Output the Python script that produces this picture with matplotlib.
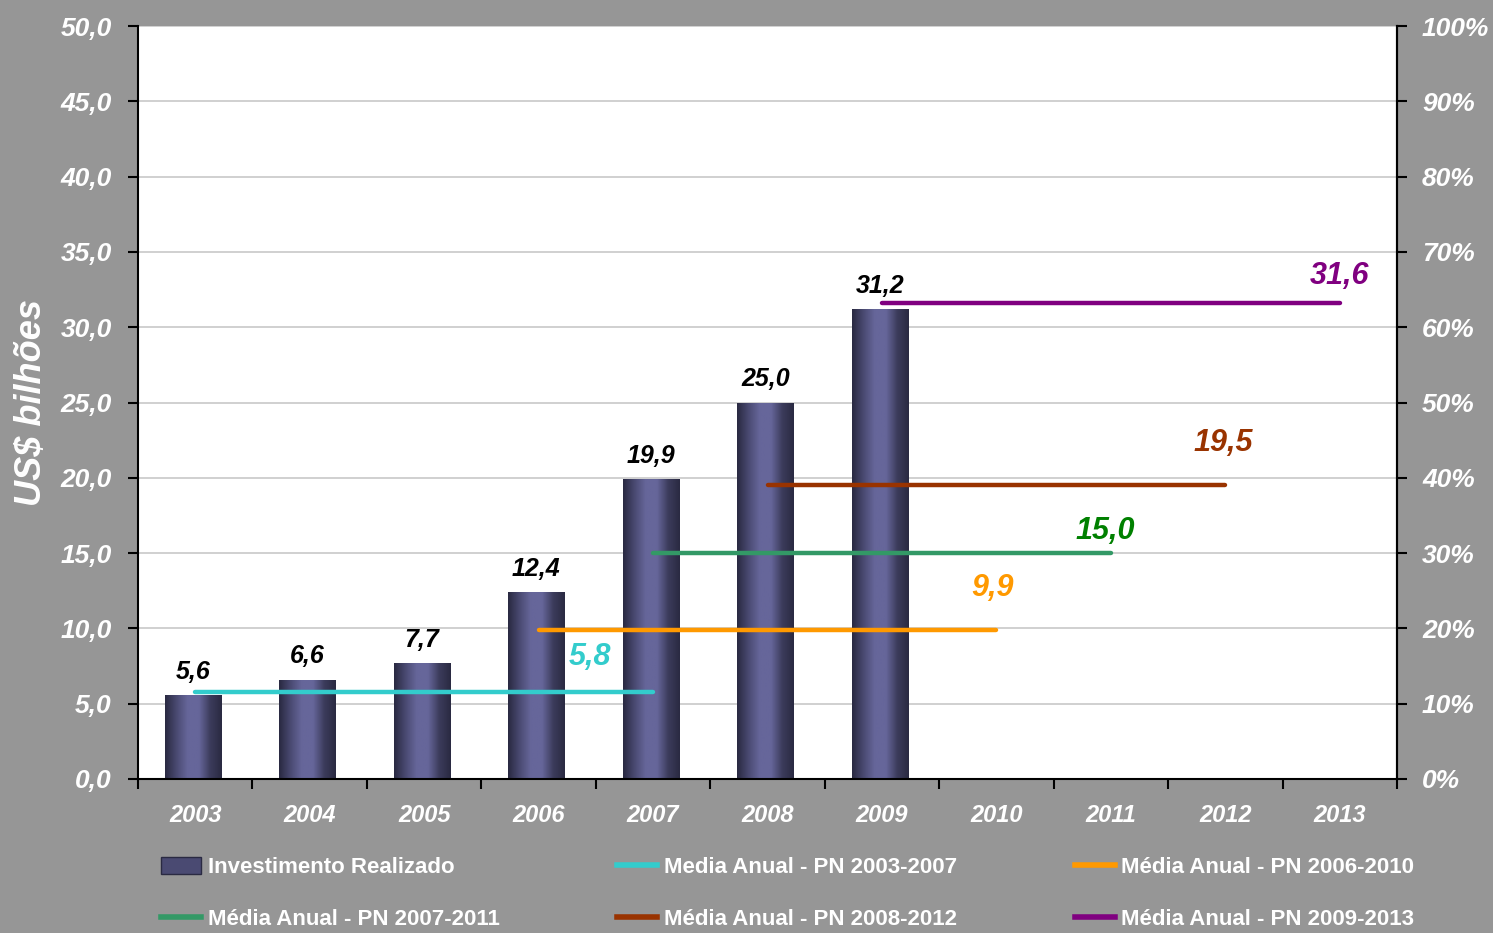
import numpy as np
import matplotlib
matplotlib.use("Agg")
import matplotlib.pyplot as plt
from matplotlib.lines import Line2D
from matplotlib.patches import Patch
from matplotlib.colors import LinearSegmentedColormap

# data
years = ['2003', '2004', '2005', '2006', '2007', '2008', '2009', '2010', '2011', '2012', '2013']
invest = [5.6, 6.6, 7.7, 12.4, 19.9, 25.0, 31.2]
invest_labels = ['5,6', '6,6', '7,7', '12,4', '19,9', '25,0', '31,2']

plan_names = ['Media Anual - PN 2003-2007', 'Média Anual - PN 2006-2010',
              'Média Anual - PN 2007-2011', 'Média Anual - PN 2008-2012',
              'Média Anual - PN 2009-2013']
plan_start = ['2003', '2006', '2007', '2008', '2009']
plan_end = ['2007', '2010', '2011', '2012', '2013']
plan_avg = [5.8, 9.9, 15.0, 19.5, 31.6]
plan_labels = ['5,8', '9,9', '15,0', '19,5', '31,6']

# style
bg = '#969696'
line_colors = ['#33CCCC', '#FF9900', '#339966', '#993300', '#800080']
text_colors = ['#33CCCC', '#FF9900', '#008000', '#993300', '#800080']
label_offsets = [(-0.55, 2.3), (-0.03, 2.75), (-0.05, 1.5), (-0.02, 2.8), (0.0, 1.8)]

plt.rcParams['font.family'] = ['Liberation Sans', 'DejaVu Sans']

fig = plt.figure(figsize=(14.93, 9.33), dpi=100, facecolor=bg)
ax = fig.add_axes([138 / 1493, 1 - 779 / 933, (1397 - 138) / 1493, (779 - 26) / 933])
ax.set_facecolor('white')

x = np.arange(len(years))
bars = ax.bar(x[:len(invest)] - 0.02, invest, width=0.49, color='#555580', zorder=2)

# gradient fill on each bar
grad = LinearSegmentedColormap.from_list('g', ['#2a2a42', '#4a4a72', '#66669a', '#66669a', '#3c3c5c', '#2a2a42'])
for b in bars:
    x0, y0 = b.get_x(), b.get_y()
    w, h = b.get_width(), b.get_height()
    im = ax.imshow(np.linspace(0, 1, 64).reshape(1, -1), cmap=grad, aspect='auto',
                   extent=[x0, x0 + w, y0, y0 + h], zorder=2.5)
    im.set_clip_path(b)
    b.set_edgecolor('#9a9ab0')
    b.set_linewidth(0.6)

for b, v, lab in zip(bars, invest, invest_labels):
    ax.annotate(lab, (b.get_x() + b.get_width() / 2, v), xytext=(0, 8), textcoords='offset points',
                ha='center', va='bottom', fontsize=18, fontweight='bold',
                fontstyle='italic', color='black', zorder=5)

for i in range(len(plan_avg)):
    xs = years.index(plan_start[i])
    xe = years.index(plan_end[i])
    ax.plot([xs, xe], [plan_avg[i], plan_avg[i]], color=line_colors[i], lw=3.2,
            solid_capstyle='round', zorder=4)
    dx, dy = label_offsets[i]
    ax.text(xe + dx, plan_avg[i] + dy, plan_labels[i], ha='center', va='center',
            fontsize=22, fontweight='bold', fontstyle='italic', color=text_colors[i], zorder=5)

ax.set_xlim(-0.5, len(years) - 0.5)
ax.set_ylim(0, 50)
ax.set_yticks(np.arange(0, 50.1, 5))
ax.set_yticklabels([f'{v:.1f}'.replace('.', ',') for v in np.arange(0, 50.1, 5)])
ax.yaxis.grid(True, color='#c8c8c8', lw=1.2, zorder=0)
ax.set_axisbelow(True)

ax.set_xticks(np.arange(-0.5, len(years), 1))
ax.set_xticklabels([])
ax.set_xticks(x, minor=True)
ax.set_xticklabels(years, minor=True)
ax.tick_params(axis='x', which='major', length=7, width=1.5, color='black', direction='out')
ax.tick_params(axis='x', which='minor', length=0, pad=18)
ax.tick_params(axis='y', length=7, width=1.5, color='black', direction='out', pad=12)
for lab in ax.get_xticklabels(minor=True) + ax.get_yticklabels():
    lab.set_color('white')
    lab.set_fontweight('bold')
    lab.set_fontstyle('italic')
    lab.set_fontsize(17)
for lab in ax.get_yticklabels():
    lab.set_fontsize(19)

for s in ['left', 'bottom', 'right']:
    ax.spines[s].set_color('black')
    ax.spines[s].set_linewidth(1.5)
ax.spines['top'].set_visible(False)

ax.set_ylabel('US$ bilhões', color='white', fontsize=26, fontweight='bold',
              fontstyle='italic', labelpad=8)

ax2 = ax.twinx()
ax2.set_ylim(0, 100)
ax2.set_yticks(np.arange(0, 101, 10))
ax2.set_yticklabels([f'{v}%' for v in range(0, 101, 10)])
ax2.tick_params(axis='y', length=7, width=1.5, color='black', direction='out', pad=11)
for lab in ax2.get_yticklabels():
    lab.set_color('white')
    lab.set_fontweight('bold')
    lab.set_fontstyle('italic')
    lab.set_fontsize(19)
for s in ['left', 'bottom', 'top']:
    ax2.spines[s].set_visible(False)
ax2.spines['right'].set_color('black')
ax2.spines['right'].set_linewidth(1.5)

handles = [Patch(facecolor='#4a4a72', edgecolor='#2a2a42'),
           Line2D([0], [0], color=line_colors[2], lw=4),
           Line2D([0], [0], color=line_colors[0], lw=4),
           Line2D([0], [0], color=line_colors[3], lw=4),
           Line2D([0], [0], color=line_colors[1], lw=4),
           Line2D([0], [0], color=line_colors[4], lw=4)]
labels = ['Investimento Realizado', plan_names[2], plan_names[0], plan_names[3],
          plan_names[1], plan_names[4]]
leg = fig.legend(handles, labels, ncol=3, loc='upper left',
                 bbox_to_anchor=(152 / 1493, 1 - 848 / 933), frameon=False,
                 prop={'weight': 'bold', 'size': 16},
                 handlelength=1.8, handleheight=0.8, handletextpad=0.3,
                 columnspacing=5.3, labelspacing=1.4, borderaxespad=0)
for t in leg.get_texts():
    t.set_color('white')

fig.savefig('out.png', dpi=100, facecolor=bg)
